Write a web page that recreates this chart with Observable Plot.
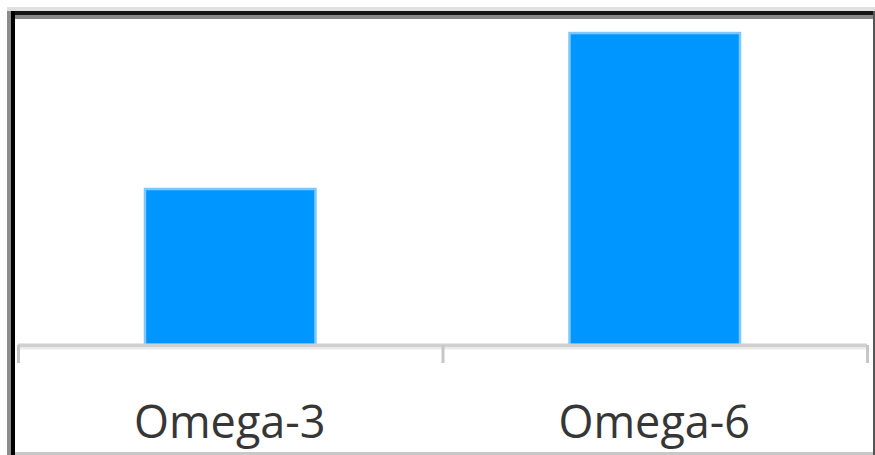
<!DOCTYPE html>
<html>
<head>
<meta charset="utf-8">
<script src="https://cdn.jsdelivr.net/npm/d3@7"></script>
<script src="https://cdn.jsdelivr.net/npm/@observablehq/plot@0.6"></script>
<style>
  html, body { margin: 0; padding: 0; background: #fff; }
  #wrap { position: relative; width: 875px; height: 455px; overflow: hidden; background: #fff; }
  #wrap svg { position: absolute; left: 0; top: 0; }
  .f { position: absolute; }
</style>
</head>
<body>
<div id="wrap"></div>
<script>
const categories = ["Omega-3", "Omega-6"];
const values = [5, 10];

const data = categories.map((c, i) => ({ name: c, i, value: values[i] }));

const chart = Plot.plot({
  width: 875,
  height: 455,
  marginLeft: 18,
  marginRight: 8,
  marginTop: 19,
  marginBottom: 110,
  style: { background: "#fff", fontFamily: "'Open Sans', sans-serif" },
  x: { domain: [0, categories.length], axis: null },
  y: { domain: [0, 10.45], axis: null },
  marks: [
    Plot.rectY(data, {
      x1: d => d.i, x2: d => d.i + 1, y1: 0, y2: "value",
      insetLeft: 127, insetRight: 127,
      fill: "#0096ff", stroke: "#7fc8ff", strokeWidth: 2.5
    }),
    Plot.ruleY([0], { stroke: "#d0d0d0", strokeWidth: 4 }),
    Plot.ruleY([0], { stroke: "#ececec", strokeWidth: 2, dy: 3 }),
    Plot.axisX({
      ticks: d3.range(categories.length + 1), tickSize: 18, tickFormat: () => "",
      stroke: "#c6c6c6", strokeWidth: 3, tickPadding: 0
    }),
    Plot.text(data, {
      x: d => d.i + 0.5, text: "name", frameAnchor: "bottom", lineAnchor: "bottom",
      dy: 92, fontSize: 45, fill: "#363636", textAnchor: "middle", dx: -1
    })
  ]
});

const wrap = document.getElementById("wrap");
wrap.appendChild(chart);

const frames = [
  [7, 7, 868, 4, "#e0e0e0"],
  [11, 11, 864, 4, "#141414"],
  [15, 15, 860, 4, "#888888"],
  [7, 11, 4, 444, "#8c8c8c"],
  [11, 11, 4, 444, "#000000"],
  [873, 11, 2, 444, "#555555"],
  [15, 452, 858, 3, "#c8c8c8"]
];
for (const [l, t, w, h, c] of frames) {
  const d = document.createElement("div");
  d.className = "f";
  d.style.left = l + "px"; d.style.top = t + "px";
  d.style.width = w + "px"; d.style.height = h + "px";
  d.style.background = c;
  wrap.appendChild(d);
}
</script>
</body>
</html>
